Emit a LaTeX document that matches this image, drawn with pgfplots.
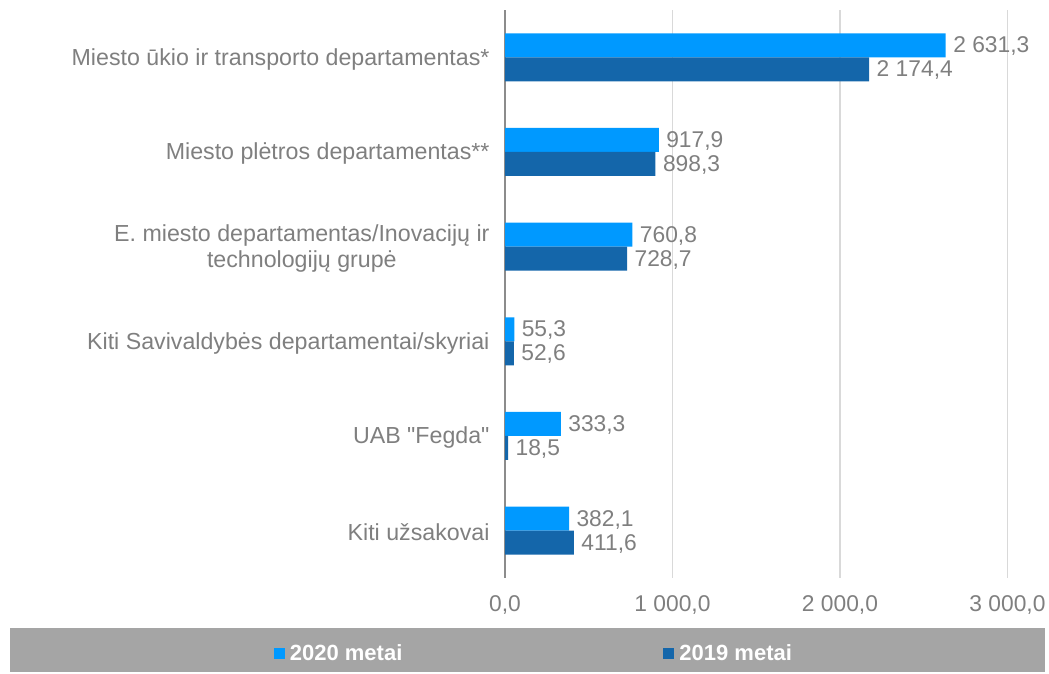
\documentclass[border=0pt]{standalone}
\usepackage{pgfplots}
\pgfplotsset{compat=1.18}
\usepackage{fontspec}
\setmainfont{Liberation Sans}
\definecolor{light}{HTML}{0099FF}
\definecolor{dark}{HTML}{1466AA}
\definecolor{txt}{HTML}{7F7F7F}
\definecolor{band}{HTML}{A5A5A5}
\definecolor{gridgray}{HTML}{D9D9D9}
\begin{document}
\begin{tikzpicture}[x=1pt,y=1pt]
    \useasboundingbox (0,0) rectangle (1049,674);
    % juosta legendai
    \fill[band] (10,2) rectangle (1045,46);

    \begin{axis}[
        at={(505pt,96pt)}, anchor=south west,
        scale only axis,
        width=536pt, height=568pt,
        xbar,
        xmin=0, xmax=3200,
        ymin=-0.5, ymax=5.5,
        bar width=24pt,
        font=\fontsize{22.8}{26}\selectfont,
        /pgf/number format/assume math mode=true,
        axis lines*=left,
        x axis line style={draw=none},
        y axis line style={draw=gray!90, line width=1.2pt},
        xmajorgrids, ymajorgrids=false,
        major x grid style={gridgray, line width=1.3pt},
        major tick length=0pt,
        xtick={0,1000,2000,3000},
        scaled x ticks=false,
        xticklabel={\pgfmathprintnumber[fixed,fixed zerofill,precision=1,use comma,1000 sep={\ },assume math mode=true]{\tick}},
        xticklabel style={text=txt, yshift=-14pt},
        ytick={0,...,5},
        yticklabels={Kiti užsakovai, UAB \textquotedbl Fegda\textquotedbl, Kiti Savivaldybės departamentai/skyriai,
            {E. miesto departamentas/Inovacijų ir\\technologijų grupė},
            Miesto plėtros departamentas**, Miesto ūkio ir transporto departamentas*},
        yticklabel style={text=txt, align=center, xshift=-12pt, yshift=-2pt,
            font=\fontsize{23.2}{26}\selectfont},
        nodes near coords={\pgfmathprintnumber[fixed,fixed zerofill,precision=1,use comma,1000 sep={\ },assume math mode=true]{\pgfplotspointmeta}},
        every node near coord/.append style={text=txt, anchor=west, xshift=4pt, yshift=-1pt},
        legend columns=2,
        legend style={at={(0.054,-0.132)}, anchor=center, draw=none, fill=none,
            font=\fontsize{22}{26}\selectfont\bfseries, text=white,
            /tikz/every odd column/.append style={column sep=3pt},
            /tikz/every even column/.append style={column sep=259pt}},
        legend image code/.code={\fill[#1,draw=none] (0pt,-6pt) rectangle (11pt,5pt);},
    ]
        % 2020 metai
        \addplot[fill=light, draw=none, bar shift=12pt] coordinates {
            (382.1,0) (333.3,1) (55.3,2) (760.8,3) (917.9,4) (2631.3,5)
        };
        \addlegendentry{2020 metai}
        % 2019 metai
        \addplot[fill=dark, draw=none, bar shift=-12pt] coordinates {
            (411.6,0) (18.5,1) (52.6,2) (728.7,3) (898.3,4) (2174.4,5)
        };
        \addlegendentry{2019 metai}
    \end{axis}
\end{tikzpicture}
\end{document}
